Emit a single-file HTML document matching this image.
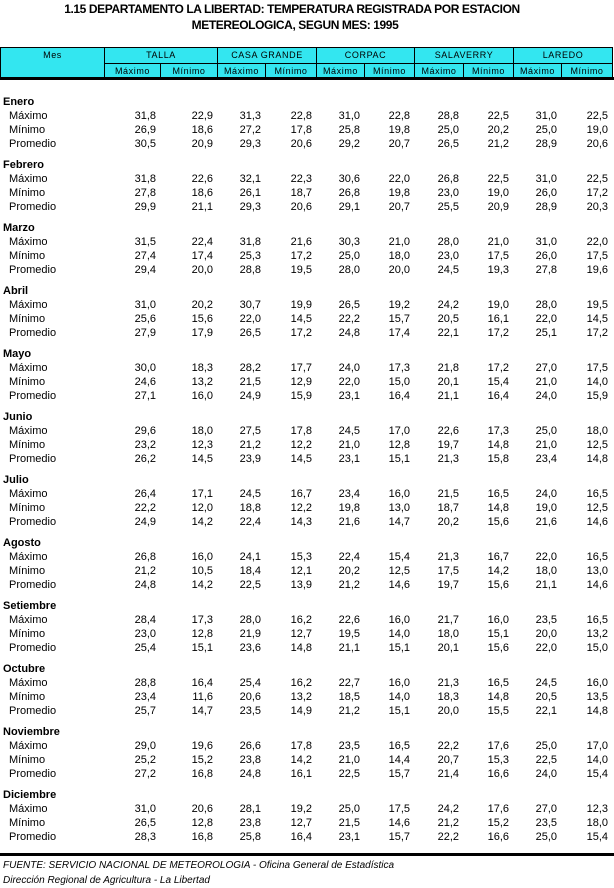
<!DOCTYPE html>
<html><head><meta charset="utf-8"><style>
body{margin:0;width:614px;height:888px;background:#fff;position:relative;font-family:"Liberation Sans",sans-serif;color:#000;overflow:hidden}
.t{position:absolute;text-align:center;font-weight:bold;font-size:12px;letter-spacing:-0.4px;white-space:nowrap}
.hd{position:absolute;top:47px;left:0;width:612px;height:31px;background:#33e6f0;border-top:1px solid #000;border-left:1px solid #000}
.hd div{position:absolute;border-right:1px solid #000;border-bottom:1px solid #000;box-sizing:border-box;font-size:9px;text-align:center;letter-spacing:0.6px;line-height:14px}
.thick{position:absolute;left:0;width:614px;height:3px;background:#000}
.r{position:absolute;left:0;height:14px;line-height:14px;font-size:11px;display:flex;width:614px}
.r span{text-align:right;padding-right:5px;box-sizing:border-box}
.r span:first-child{text-align:left;padding-left:9px;width:105px}
.r span:nth-child(2){width:56px}.r span:nth-child(3){width:57px}.r span:nth-child(4){width:48px}.r span:nth-child(5){width:51px}.r span:nth-child(6){width:48px}.r span:nth-child(7){width:50px}.r span:nth-child(8){width:49px}.r span:nth-child(9){width:50px}.r span:nth-child(10){width:48px}.r span:nth-child(11){width:51px}
.m{position:absolute;left:3px;font-weight:bold;font-size:11px;line-height:14px}
.f{position:absolute;left:3px;font-style:italic;font-size:10px}
</style></head><body>
<div class="t" style="top:2px;left:0;width:584px">1.15 DEPARTAMENTO LA LIBERTAD:  TEMPERATURA REGISTRADA POR ESTACION</div>
<div class="t" style="top:18px;left:0;width:590px">METEREOLOGICA, SEGUN MES:  1995</div>
<div class="hd">
<div style="left:0;top:0;width:104px;height:31px">Mes</div>
<div style="left:104px;top:0;width:113px;height:16px">TALLA</div>
<div style="left:217px;top:0;width:99px;height:16px">CASA GRANDE</div>
<div style="left:316px;top:0;width:98px;height:16px">CORPAC</div>
<div style="left:414px;top:0;width:99px;height:16px">SALAVERRY</div>
<div style="left:513px;top:0;width:99px;height:16px">LAREDO</div>
<div style="left:104px;top:16px;width:56px;height:15px">Máximo</div>
<div style="left:160px;top:16px;width:57px;height:15px">Mínimo</div>
<div style="left:217px;top:16px;width:48px;height:15px">Máximo</div>
<div style="left:265px;top:16px;width:51px;height:15px">Mínimo</div>
<div style="left:316px;top:16px;width:48px;height:15px">Máximo</div>
<div style="left:364px;top:16px;width:50px;height:15px">Mínimo</div>
<div style="left:414px;top:16px;width:49px;height:15px">Máximo</div>
<div style="left:463px;top:16px;width:50px;height:15px">Mínimo</div>
<div style="left:513px;top:16px;width:48px;height:15px">Máximo</div>
<div style="left:561px;top:16px;width:51px;height:15px">Mínimo</div>
</div>
<div class="thick" style="top:77px"></div>

<div class="m" style="top:95px">Enero</div>
<div class="r" style="top:109px"><span>Máximo</span><span>31,8</span><span>22,9</span><span>31,3</span><span>22,8</span><span>31,0</span><span>22,8</span><span>28,8</span><span>22,5</span><span>31,0</span><span>22,5</span></div>
<div class="r" style="top:123px"><span>Mínimo</span><span>26,9</span><span>18,6</span><span>27,2</span><span>17,8</span><span>25,8</span><span>19,8</span><span>25,0</span><span>20,2</span><span>25,0</span><span>19,0</span></div>
<div class="r" style="top:137px"><span>Promedio</span><span>30,5</span><span>20,9</span><span>29,3</span><span>20,6</span><span>29,2</span><span>20,7</span><span>26,5</span><span>21,2</span><span>28,9</span><span>20,6</span></div>

<div class="m" style="top:158px">Febrero</div>
<div class="r" style="top:172px"><span>Máximo</span><span>31,8</span><span>22,6</span><span>32,1</span><span>22,3</span><span>30,6</span><span>22,0</span><span>26,8</span><span>22,5</span><span>31,0</span><span>22,5</span></div>
<div class="r" style="top:186px"><span>Mínimo</span><span>27,8</span><span>18,6</span><span>26,1</span><span>18,7</span><span>26,8</span><span>19,8</span><span>23,0</span><span>19,0</span><span>26,0</span><span>17,2</span></div>
<div class="r" style="top:200px"><span>Promedio</span><span>29,9</span><span>21,1</span><span>29,3</span><span>20,6</span><span>29,1</span><span>20,7</span><span>25,5</span><span>20,9</span><span>28,9</span><span>20,3</span></div>

<div class="m" style="top:221px">Marzo</div>
<div class="r" style="top:235px"><span>Máximo</span><span>31,5</span><span>22,4</span><span>31,8</span><span>21,6</span><span>30,3</span><span>21,0</span><span>28,0</span><span>21,0</span><span>31,0</span><span>22,0</span></div>
<div class="r" style="top:249px"><span>Mínimo</span><span>27,4</span><span>17,4</span><span>25,3</span><span>17,2</span><span>25,0</span><span>18,0</span><span>23,0</span><span>17,5</span><span>26,0</span><span>17,5</span></div>
<div class="r" style="top:263px"><span>Promedio</span><span>29,4</span><span>20,0</span><span>28,8</span><span>19,5</span><span>28,0</span><span>20,0</span><span>24,5</span><span>19,3</span><span>27,8</span><span>19,6</span></div>

<div class="m" style="top:284px">Abril</div>
<div class="r" style="top:298px"><span>Máximo</span><span>31,0</span><span>20,2</span><span>30,7</span><span>19,9</span><span>26,5</span><span>19,2</span><span>24,2</span><span>19,0</span><span>28,0</span><span>19,5</span></div>
<div class="r" style="top:312px"><span>Mínimo</span><span>25,6</span><span>15,6</span><span>22,0</span><span>14,5</span><span>22,2</span><span>15,7</span><span>20,5</span><span>16,1</span><span>22,0</span><span>14,5</span></div>
<div class="r" style="top:326px"><span>Promedio</span><span>27,9</span><span>17,9</span><span>26,5</span><span>17,2</span><span>24,8</span><span>17,4</span><span>22,1</span><span>17,2</span><span>25,1</span><span>17,2</span></div>

<div class="m" style="top:347px">Mayo</div>
<div class="r" style="top:361px"><span>Máximo</span><span>30,0</span><span>18,3</span><span>28,2</span><span>17,7</span><span>24,0</span><span>17,3</span><span>21,8</span><span>17,2</span><span>27,0</span><span>17,5</span></div>
<div class="r" style="top:375px"><span>Mínimo</span><span>24,6</span><span>13,2</span><span>21,5</span><span>12,9</span><span>22,0</span><span>15,0</span><span>20,1</span><span>15,4</span><span>21,0</span><span>14,0</span></div>
<div class="r" style="top:389px"><span>Promedio</span><span>27,1</span><span>16,0</span><span>24,9</span><span>15,9</span><span>23,1</span><span>16,4</span><span>21,1</span><span>16,4</span><span>24,0</span><span>15,9</span></div>

<div class="m" style="top:410px">Junio</div>
<div class="r" style="top:424px"><span>Máximo</span><span>29,6</span><span>18,0</span><span>27,5</span><span>17,8</span><span>24,5</span><span>17,0</span><span>22,6</span><span>17,3</span><span>25,0</span><span>18,0</span></div>
<div class="r" style="top:438px"><span>Mínimo</span><span>23,2</span><span>12,3</span><span>21,2</span><span>12,2</span><span>21,0</span><span>12,8</span><span>19,7</span><span>14,8</span><span>21,0</span><span>12,5</span></div>
<div class="r" style="top:452px"><span>Promedio</span><span>26,2</span><span>14,5</span><span>23,9</span><span>14,5</span><span>23,1</span><span>15,1</span><span>21,3</span><span>15,8</span><span>23,4</span><span>14,8</span></div>

<div class="m" style="top:473px">Julio</div>
<div class="r" style="top:487px"><span>Máximo</span><span>26,4</span><span>17,1</span><span>24,5</span><span>16,7</span><span>23,4</span><span>16,0</span><span>21,5</span><span>16,5</span><span>24,0</span><span>16,5</span></div>
<div class="r" style="top:501px"><span>Mínimo</span><span>22,2</span><span>12,0</span><span>18,8</span><span>12,2</span><span>19,8</span><span>13,0</span><span>18,7</span><span>14,8</span><span>19,0</span><span>12,5</span></div>
<div class="r" style="top:515px"><span>Promedio</span><span>24,9</span><span>14,2</span><span>22,4</span><span>14,3</span><span>21,6</span><span>14,7</span><span>20,2</span><span>15,6</span><span>21,6</span><span>14,6</span></div>

<div class="m" style="top:536px">Agosto</div>
<div class="r" style="top:550px"><span>Máximo</span><span>26,8</span><span>16,0</span><span>24,1</span><span>15,3</span><span>22,4</span><span>15,4</span><span>21,3</span><span>16,7</span><span>22,0</span><span>16,5</span></div>
<div class="r" style="top:564px"><span>Mínimo</span><span>21,2</span><span>10,5</span><span>18,4</span><span>12,1</span><span>20,2</span><span>12,5</span><span>17,5</span><span>14,2</span><span>18,0</span><span>13,0</span></div>
<div class="r" style="top:578px"><span>Promedio</span><span>24,8</span><span>14,2</span><span>22,5</span><span>13,9</span><span>21,2</span><span>14,6</span><span>19,7</span><span>15,6</span><span>21,1</span><span>14,6</span></div>

<div class="m" style="top:599px">Setiembre</div>
<div class="r" style="top:613px"><span>Máximo</span><span>28,4</span><span>17,3</span><span>28,0</span><span>16,2</span><span>22,6</span><span>16,0</span><span>21,7</span><span>16,0</span><span>23,5</span><span>16,5</span></div>
<div class="r" style="top:627px"><span>Mínimo</span><span>23,0</span><span>12,8</span><span>21,9</span><span>12,7</span><span>19,5</span><span>14,0</span><span>18,0</span><span>15,1</span><span>20,0</span><span>13,2</span></div>
<div class="r" style="top:641px"><span>Promedio</span><span>25,4</span><span>15,1</span><span>23,6</span><span>14,8</span><span>21,1</span><span>15,1</span><span>20,1</span><span>15,6</span><span>22,0</span><span>15,0</span></div>

<div class="m" style="top:662px">Octubre</div>
<div class="r" style="top:676px"><span>Máximo</span><span>28,8</span><span>16,4</span><span>25,4</span><span>16,2</span><span>22,7</span><span>16,0</span><span>21,3</span><span>16,5</span><span>24,5</span><span>16,0</span></div>
<div class="r" style="top:690px"><span>Mínimo</span><span>23,4</span><span>11,6</span><span>20,6</span><span>13,2</span><span>18,5</span><span>14,0</span><span>18,3</span><span>14,8</span><span>20,5</span><span>13,5</span></div>
<div class="r" style="top:704px"><span>Promedio</span><span>25,7</span><span>14,7</span><span>23,5</span><span>14,9</span><span>21,2</span><span>15,1</span><span>20,0</span><span>15,5</span><span>22,1</span><span>14,8</span></div>

<div class="m" style="top:725px">Noviembre</div>
<div class="r" style="top:739px"><span>Máximo</span><span>29,0</span><span>19,6</span><span>26,6</span><span>17,8</span><span>23,5</span><span>16,5</span><span>22,2</span><span>17,6</span><span>25,0</span><span>17,0</span></div>
<div class="r" style="top:753px"><span>Mínimo</span><span>25,2</span><span>15,2</span><span>23,8</span><span>14,2</span><span>21,0</span><span>14,4</span><span>20,7</span><span>15,3</span><span>22,5</span><span>14,0</span></div>
<div class="r" style="top:767px"><span>Promedio</span><span>27,2</span><span>16,8</span><span>24,8</span><span>16,1</span><span>22,5</span><span>15,7</span><span>21,4</span><span>16,6</span><span>24,0</span><span>15,4</span></div>

<div class="m" style="top:788px">Diciembre</div>
<div class="r" style="top:802px"><span>Máximo</span><span>31,0</span><span>20,6</span><span>28,1</span><span>19,2</span><span>25,0</span><span>17,5</span><span>24,2</span><span>17,6</span><span>27,0</span><span>12,3</span></div>
<div class="r" style="top:816px"><span>Mínimo</span><span>26,5</span><span>12,8</span><span>23,8</span><span>12,7</span><span>21,5</span><span>14,6</span><span>21,2</span><span>15,2</span><span>23,5</span><span>18,0</span></div>
<div class="r" style="top:830px"><span>Promedio</span><span>28,3</span><span>16,8</span><span>25,8</span><span>16,4</span><span>23,1</span><span>15,7</span><span>22,2</span><span>16,6</span><span>25,0</span><span>15,4</span></div>

<div class="thick" style="top:853px;height:3px"></div>
<div class="f" style="top:860px">FUENTE: SERVICIO NACIONAL DE METEOROLOGIA - Oficina General de Estadística</div>
<div class="f" style="top:875px">Dirección Regional de Agricultura - La Libertad</div>
</body></html>
